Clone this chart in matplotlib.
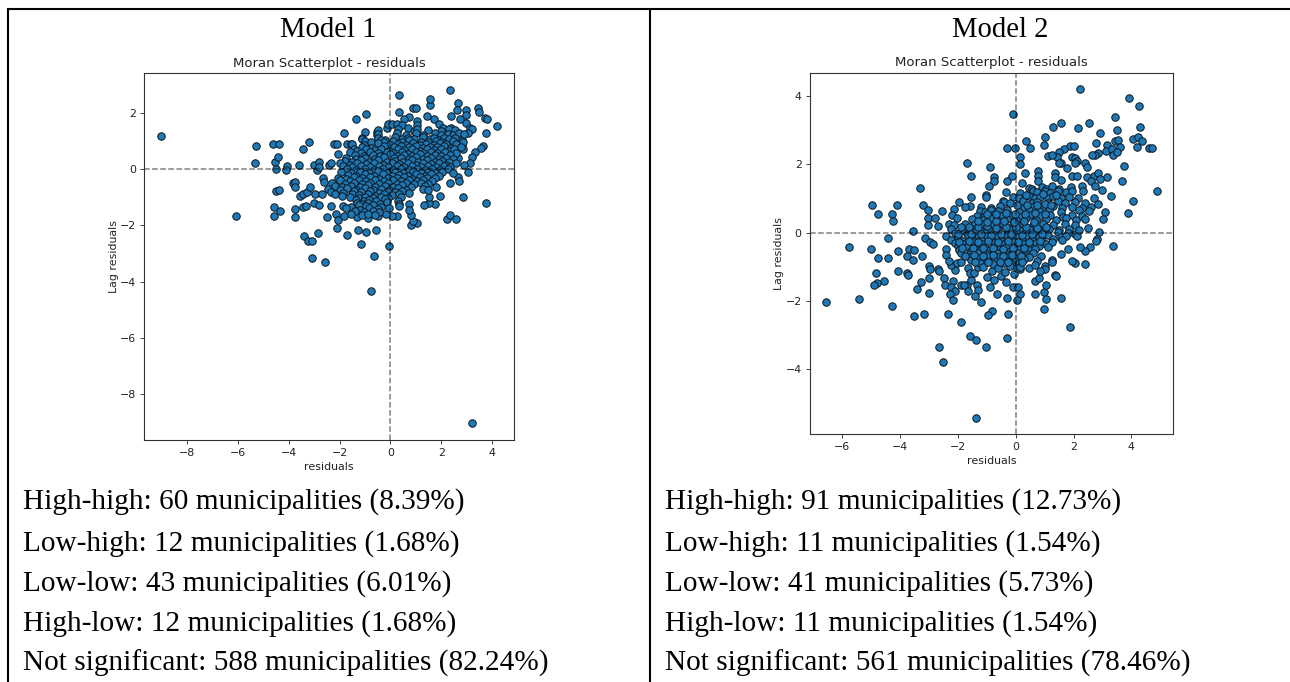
import matplotlib
matplotlib.use('Agg')
import matplotlib.pyplot as plt
from matplotlib.lines import Line2D

W = 1290
H = 682

titles = ['Model 1', 'Model 2']
labels1 = ['High-high: 60 municipalities (8.39%)', 'Low-high: 12 municipalities (1.68%)',
           'Low-low: 43 municipalities (6.01%)', 'High-low: 12 municipalities (1.68%)',
           'Not significant: 588 municipalities (82.24%)']
labels2 = ['High-high: 91 municipalities (12.73%)', 'Low-high: 11 municipalities (1.54%)',
           'Low-low: 41 municipalities (5.73%)', 'High-low: 11 municipalities (1.54%)',
           'Not significant: 561 municipalities (78.46%)']

# model 1, scattered points
outer1 = [(-9.04,1.17),(-6.09,-1.67),(-5.28,0.82),(-5.35,0.21),(-4.63,0.89),(-4.37,0.89),(-4.53,0.27),
(-4.41,0.44),(-4.49,0.02),(-4.06,0.11),(-4.12,-0.04),(-3.58,0.13),(-3.45,0.72),(-3.22,0.97),(-4.5,-0.79),
(-4.37,-0.75),(-4.59,-1.34),(-4.33,-1.48),(-4.59,-1.67),(-3.85,-0.49),(-3.75,-0.46),(-3.74,-0.65),
(-3.77,-1.42),(-3.74,-1.7),(-3.56,-0.94),(-3.43,-0.87),(-3.29,-0.83),(-3.15,-0.63),(-3.45,-1.36),
(-3.33,-1.3),(-3.0,-1.19),(-2.8,-1.28),(-2.97,-0.89),(-2.7,-0.87),(-3.0,0.15),(-2.83,0.26),(-2.87,-0.04),
(-2.8,0.08),(-2.64,-0.32),(-2.61,-0.47),(-2.43,0.13),(-2.32,0.2),(-2.22,0.89),(-2.11,0.89),(-2.06,0.53),
(-1.82,1.29),(-1.72,0.91),(-1.55,0.91),(-3.39,-2.38),(-3.23,-2.55),(-3.07,-2.55),(-2.86,-2.27),(-3.08,-3.17),
(-2.59,-3.31),(-2.48,-1.71),(-2.32,-1.3),(-2.14,-1.58),(-2.05,-1.81),(-2.11,-2.08),(-1.71,-2.33),(-1.82,-1.66),
(-1.26,-2.16),(-0.96,-2.24),(-0.55,-2.18),(-1.14,-2.67),(-0.64,-3.1),(-0.05,-2.72),(-0.76,-4.33),(3.21,-9.05),
(-1.36,1.8),(-0.96,1.97),(-0.98,1.33),(-1.13,1.12),(-0.51,1.33),(-0.51,1.2),(0.35,2.62),(0.35,2.02),(0.91,2.19),
(1.01,2.16),(1.57,2.28),(1.57,2.48),(2.36,2.82),(2.65,2.34),(2.62,2.1),(2.97,2.12),(2.99,1.92),(2.4,1.89),
(1.43,1.89),(1.73,1.79),(0.75,1.86),(0.55,1.79),(1.06,1.72),(3.46,2.19),(3.49,2.03),(3.73,1.81),(3.82,1.79),
(4.21,1.52),(3.77,1.27),(2.98,1.65),(2.74,1.77),(3.14,1.48),(3.23,1.42),(3.65,0.83),(3.58,0.76),(3.35,0.62),
(3.2,0.44),(3.12,0.23),(2.9,0.14),(3.04,-0.12),(3.77,-1.22),(2.87,-1.0),(1.96,-0.94),(2.68,-0.27),(2.7,-0.44),
(2.34,-0.51),(1.75,-1.25),(1.52,-1.22),(1.34,-1.29),(1.52,-0.98),(2.22,-1.76),(2.36,-1.65),(2.6,-1.76),
(1.06,-1.93),(0.83,-1.99),(0.88,-1.86),(0.83,-1.64),(0.75,-1.25),(0.75,-1.44),(0.25,-1.67),(0.07,-1.67),
(-0.18,-1.58),(-0.49,-1.66),(-0.88,-1.74),(-1.3,-1.7),(2.81,1.03),(2.81,0.85),(2.87,0.7),(2.68,0.4),(3.07,1.27),
(-0.14,1.48),(-0.08,1.6),(0.05,1.62),(0.25,1.6),(0.45,1.57),(0.71,1.48),(1.04,1.57),(1.93,1.6),(2.09,1.45),(2.38,1.45)]

# model 1, dense centre
core1 = [(-0.5,1.38),(0.3,1.42),(0.95,1.36),(1.05,1.44),(1.5,1.4),(2.0,1.35),(2.3,1.42),(2.55,1.38),
(-0.48,1.25),(0.25,1.28),(0.6,1.22),(1.0,1.27),(1.3,1.22),(1.75,1.29),(2.0,1.21),(2.25,1.26),(2.45,1.23),(2.7,1.27),(2.9,1.24),
(-1.1,1.08),(-0.5,1.12),(-0.2,1.05),(0.2,1.13),(0.45,1.07),(0.7,1.12),(0.95,1.06),(1.3,1.13),(1.55,1.08),(1.7,1.12),(1.9,1.05),(2.1,1.12),(2.3,1.07),(2.55,1.1),
(-1.0,1.0),(-0.75,0.96),(-0.35,1.02),(-0.25,0.95),(0.1,1.0),(0.45,0.97),(0.75,1.02),(1.2,0.98),(1.5,0.96),(1.8,1.01),(2.05,0.97),(2.45,1.0),(2.85,0.98),
(-1.5,0.91),(-1.05,0.87),(-0.5,0.92),(0.0,0.86),(0.3,0.91),(0.6,0.87),(0.9,0.93),(1.15,0.86),(1.4,0.9),(1.7,0.85),(1.95,0.92),(2.2,0.88),(2.6,0.91),
(-1.1,0.8),(-0.75,0.76),(-0.25,0.81),(0.15,0.77),(0.4,0.82),(0.75,0.78),(1.0,0.81),(1.3,0.75),(1.55,0.8),(1.85,0.77),(2.1,0.82),(2.4,0.76),(2.8,0.8),
(-1.45,0.7),(-1.3,0.66),(-0.95,0.72),(-0.6,0.67),(-0.35,0.71),(-0.05,0.66),(0.3,0.72),(0.55,0.68),(0.85,0.71),(1.15,0.65),(1.45,0.72),(1.7,0.67),(2.0,0.71),(2.3,0.66),(2.5,0.7),
(-1.6,0.6),(-1.15,0.56),(-0.8,0.61),(-0.5,0.57),(-0.15,0.62),(0.1,0.58),(0.45,0.6),(0.7,0.55),(1.0,0.62),(1.3,0.57),(1.6,0.6),(1.85,0.56),(2.15,0.61),(2.6,0.57),
(-1.4,0.5),(-1.05,0.46),(-0.7,0.51),(-0.4,0.47),(0.0,0.52),(0.25,0.46),(0.55,0.5),(0.85,0.47),(1.15,0.52),(1.45,0.46),(1.75,0.51),(2.0,0.47),(2.35,0.5),
(-1.75,0.4),(-1.35,0.36),(-1.0,0.41),(-0.6,0.37),(-0.25,0.42),(0.15,0.38),(0.4,0.4),(0.75,0.36),(1.0,0.42),(1.3,0.37),(1.6,0.41),(1.9,0.36),(2.2,0.4),(2.45,0.37),
(-1.8,0.3),(-1.5,0.26),(-1.15,0.31),(-0.85,0.27),(-0.5,0.32),(-0.15,0.26),(0.2,0.3),(0.5,0.27),(0.85,0.32),(1.1,0.26),(1.45,0.31),(1.75,0.27),(2.05,0.3),(2.3,0.26),
(-2.0,0.2),(-1.6,0.16),(-1.3,0.21),(-0.95,0.17),(-0.65,0.22),(-0.3,0.16),(0.05,0.2),(0.35,0.17),(0.7,0.22),(1.0,0.16),(1.3,0.21),(1.6,0.17),(1.9,0.2),(2.2,0.16),(2.6,0.2),
(-1.85,0.1),(-1.5,0.06),(-1.15,0.11),(-0.8,0.07),(-0.45,0.12),(-0.1,0.06),(0.25,0.1),(0.55,0.07),(0.85,0.12),(1.2,0.06),(1.5,0.11),(1.8,0.07),(2.1,0.1),(2.35,0.06),
(-1.7,0.0),(-1.35,-0.04),(-1.0,0.01),(-0.65,-0.03),(-0.3,0.02),(0.1,-0.04),(0.4,0.0),(0.75,-0.03),(1.05,0.02),(1.35,-0.04),(1.65,0.01),(1.95,-0.03),(2.25,0.0),
(-1.95,-0.1),(-1.55,-0.14),(-1.2,-0.09),(-0.85,-0.13),(-0.5,-0.08),(-0.15,-0.14),(0.2,-0.1),(0.5,-0.13),(0.9,-0.08),(1.2,-0.14),(1.5,-0.09),(1.75,-0.13),(2.05,-0.1),(2.45,-0.14),
(-1.65,-0.2),(-1.35,-0.24),(-1.0,-0.19),(-0.65,-0.23),(-0.3,-0.18),(0.05,-0.24),(0.35,-0.2),(0.7,-0.23),(1.0,-0.18),(1.35,-0.24),(1.6,-0.19),(1.9,-0.23),
(-2.05,-0.3),(-1.75,-0.34),(-1.45,-0.29),(-1.1,-0.33),(-0.8,-0.28),(-0.45,-0.34),(-0.1,-0.3),(0.25,-0.33),(0.55,-0.28),(0.85,-0.34),(1.15,-0.29),(1.45,-0.33),(1.75,-0.3),
(-2.0,-0.4),(-1.6,-0.44),(-1.25,-0.39),(-0.95,-0.43),(-0.6,-0.38),(-0.25,-0.44),(0.1,-0.4),(0.4,-0.43),(0.75,-0.38),(1.05,-0.44),(1.3,-0.39),(1.65,-0.43),
(-2.3,-0.5),(-1.8,-0.54),(-1.45,-0.49),(-1.1,-0.53),(-0.8,-0.48),(-0.45,-0.54),(-0.1,-0.5),(0.25,-0.53),(0.6,-0.48),(0.95,-0.54),(1.2,-0.49),(1.5,-0.53),
(-2.2,-0.6),(-1.9,-0.64),(-1.55,-0.59),(-1.2,-0.63),(-0.9,-0.58),(-0.6,-0.64),(-0.2,-0.6),(0.1,-0.63),(0.45,-0.58),(0.8,-0.64),(1.35,-0.6),(1.8,-0.63),
(-2.45,-0.7),(-2.0,-0.74),(-1.7,-0.69),(-1.35,-0.73),(-1.0,-0.68),(-0.7,-0.74),(-0.35,-0.7),(-0.05,-0.73),(0.3,-0.68),(0.6,-0.74),(1.3,-0.7),(1.5,-0.73),
(-2.35,-0.8),(-1.85,-0.84),(-1.45,-0.79),(-1.15,-0.83),(-0.8,-0.78),(-0.45,-0.84),(-0.1,-0.8),(0.2,-0.83),(0.45,-0.78),(0.75,-0.84),
(-2.2,-0.9),(-1.9,-0.94),(-1.5,-0.89),(-1.25,-0.93),(-0.9,-0.88),(-0.6,-0.94),(-0.25,-0.9),(0.05,-0.93),(0.35,-0.88),
(-1.6,-1.0),(-1.25,-1.04),(-1.0,-0.99),(-0.7,-1.03),(-0.35,-0.98),(-0.1,-1.04),(0.4,-1.0),
(-1.35,-1.1),(-1.05,-1.14),(-0.85,-1.09),(-0.55,-1.13),(-0.2,-1.08),(0.3,-1.14),
(-1.3,-1.2),(-1.1,-1.24),(-0.9,-1.19),(-0.4,-1.23),(-0.15,-1.18),(0.35,-1.24),
(-1.85,-1.3),(-1.55,-1.34),(-1.25,-1.29),(-0.95,-1.33),(-0.7,-1.28),(-0.35,-1.34),(0.35,-1.3),
(-1.75,-1.4),(-1.2,-1.44),(-0.85,-1.39),(-0.5,-1.43),(-0.05,-1.38),
(-1.4,-1.5),(-1.05,-1.54),(-0.7,-1.49),(-0.45,-1.53),(-1.55,-1.6),(-1.1,-1.63),(-0.9,-1.58),(-0.6,-1.62)]

# model 2, scattered points
outer2 = [(2.23,4.21),(3.93,3.96),(4.28,3.7),(-0.08,3.48),(3.45,3.38),(3.51,3.02),(4.29,3.11),(1.56,3.21),(1.28,3.09),
(2.53,3.21),(2.17,3.06),(2.91,2.93),(1.0,2.82),(0.36,2.7),(0.5,2.47),(-0.01,2.49),(-0.3,2.47),(0.96,2.56),(3.43,2.7),
(3.53,2.72),(2.77,2.63),(4.07,2.75),(4.23,2.8),(4.38,2.68),(4.2,2.51),(4.61,2.47),(4.73,2.47),(4.88,1.21),(4.05,0.93),
(3.88,0.57),(3.73,1.96),(3.69,1.51),(3.6,2.52),(3.15,2.57),(3.13,2.39),(3.32,2.44),(3.38,2.28),(3.49,2.38),(2.86,2.33),
(2.75,2.28),(2.63,2.28),(1.86,2.55),(2.0,2.55),(1.67,2.45),(1.48,2.38),(1.42,2.23),(1.12,2.25),(1.25,2.28),(1.57,2.05),
(1.48,2.03),(1.94,2.21),(2.05,2.18),(2.11,2.11),(2.04,2.05),(1.76,1.89),(2.39,2.03),(2.45,1.92),(0.15,2.21),(0.15,2.01),
(-1.7,2.05),(-0.89,1.94),(-1.55,1.66),(-3.33,1.32),(-0.75,1.62),(-0.75,1.52),(-0.91,1.37),(-0.31,1.52),(-0.13,1.66),
(0.33,1.76),(0.77,1.81),(0.77,1.67),(0.77,1.52),(1.34,1.76),(1.36,1.62),(1.56,1.54),(1.96,1.66),(2.13,1.66),(2.48,1.64),
(2.69,1.66),(2.83,1.76),(3.15,1.64),(2.92,1.56),(2.6,1.52),(2.75,1.37),(3.0,1.25),(3.29,1.08),(2.28,1.37),(2.32,1.23),
(2.69,1.01),(2.85,0.84),(3.09,0.6),(3.03,0.39),(2.88,0.02),(2.49,0.15),(-4.98,0.82),(-4.11,0.82),(-4.75,0.55),(-4.27,0.55),
(-4.24,0.34),(-3.56,0.06),(-4.41,-0.15),(-3.2,0.8),(-3.03,0.68),(-3.02,0.43),(-2.78,0.43),(-3.02,0.24),(-2.68,0.2),
(-2.55,0.65),(-2.15,0.7),(-1.98,0.91),(-2.21,0.52),(-2.04,0.42),(-1.58,0.79),(-1.75,0.74),(-1.55,1.05),(-1.04,1.12),
(-1.04,1.05),(-0.43,0.94),(-5.77,-0.42),(-5.0,-0.47),(-4.06,-0.54),(-3.71,-0.47),(-3.52,-0.51),(-4.75,-0.74),(-4.43,-0.74),
(-3.75,-0.69),(-3.54,-0.8),(-3.24,-0.69),(-3.14,-0.15),(-2.96,-0.27),(-2.85,-0.33),(-2.43,-0.47),(-2.43,-0.65),(-3.0,-0.98),
(-2.98,-1.05),(-2.7,-1.05),(-2.65,-1.11),(-4.82,-1.17),(-4.08,-1.13),(-3.75,-1.19),(-3.73,-1.24),(-4.56,-1.41),(-4.79,-1.46),
(-4.92,-1.54),(-3.29,-1.43),(-3.0,-1.34),(-3.43,-1.66),(-3.0,-1.78),(-2.48,-1.34),(-2.44,-1.53),(-2.16,-1.41),(-2.25,-1.58),
(-2.1,-1.72),(-2.27,-1.81),(-2.16,-1.96),(-1.91,-1.53),(-1.69,-1.53),(-1.79,-1.53),(-1.56,-1.39),(-1.33,-1.53),(-1.29,-1.68),
(-1.67,-1.72),(-1.41,-1.84),(-1.21,-2.04),(-0.89,-1.6),(-0.65,-1.8),(-0.29,-1.92),(-0.08,-1.58),(0.09,-1.58),(0.15,-1.8),
(0.03,-1.96),(0.68,-1.8),(0.98,-1.75),(1.06,-1.94),(1.04,-1.54),(0.65,-1.41),(0.82,-1.34),(1.56,-1.92),(1.36,-1.23),(1.38,-1.27),
(0.98,-2.25),(1.86,-2.76),(-6.57,-2.02),(-5.41,-1.95),(-4.27,-2.16),(-3.52,-2.43),(-3.19,-2.37),(-2.34,-2.37),(-1.91,-2.62),
(-0.83,-2.3),(-0.97,-2.41),(-0.27,-2.39),(-1.6,-3.04),(-1.37,-3.15),(-0.32,-3.08),(-1.03,-3.35),(-2.64,-3.35),(-2.51,-3.79),
(-1.37,-5.42),(3.37,-0.39),(2.57,-0.42),(2.38,-0.55),(2.23,-0.42),(2.4,-0.93),(2.05,-0.9),(1.95,-0.84),(1.79,-0.47),(1.57,-0.61),
(1.25,-0.8),(1.25,-0.87),(1.01,-0.97),(1.0,-1.05),(0.84,-1.11),(0.88,-0.67),(0.73,-0.82),(0.47,-1.02),(0.68,-0.95),(0.14,-1.05),
(2.8,-0.17),(2.78,-0.23),(2.05,-0.05),(2.11,-0.09),(-0.68,-0.88),(-0.52,-0.88),(-0.81,-1.13),(-1.0,-1.29),(-0.74,-1.38),(-0.52,-1.27),
(-0.33,-1.44),(-0.06,-1.22),(-0.39,-1.14),(-1.64,-1.02),(-1.6,-1.17),(-1.46,-1.17),(-1.29,-1.0),(-1.1,-0.9),(-2.12,-1.08),(-2.23,-0.95),
(-2.31,-0.83),(-2.05,-0.9),(-1.9,-0.87)]

# model 2, dense centre
core2 = [(0.2,1.45),(0.45,1.32),(0.55,1.28),(0.9,1.33),(1.05,1.27),(1.25,1.36),(1.5,1.29),(1.9,1.33),
(-0.35,1.2),(0.15,1.17),(0.6,1.22),(0.75,1.18),(1.0,1.21),(1.2,1.16),(1.45,1.22),(1.75,1.18),(1.95,1.21),
(-0.1,1.05),(0.1,1.02),(0.45,1.07),(0.65,1.03),(0.85,1.06),(1.1,1.02),(1.3,1.07),(1.55,1.03),(1.85,1.06),(2.15,1.02),
(-0.4,0.9),(-0.2,0.87),(0.25,0.92),(0.55,0.88),(0.75,0.91),(1.1,0.87),(1.45,0.92),(1.7,0.88),(2.05,0.91),(2.4,0.87),
(-1.2,0.75),(-0.85,0.72),(-0.55,0.77),(0.3,0.73),(0.6,0.76),(0.9,0.72),(1.3,0.77),(1.6,0.73),(1.95,0.76),(2.3,0.72),(2.6,0.75),
(-1.25,0.65),(-1.05,0.62),(-0.85,0.67),(-0.6,0.63),(-0.3,0.66),(0.1,0.62),(0.45,0.67),(0.8,0.63),(1.15,0.66),(1.55,0.62),(2.2,0.67),(2.55,0.63),
(-1.35,0.5),(-1.1,0.47),(-0.8,0.52),(-0.5,0.48),(-0.2,0.51),(0.15,0.47),(0.5,0.52),(0.85,0.48),(1.2,0.51),(1.65,0.47),(1.95,0.52),(2.3,0.48),
(-1.5,0.4),(-1.15,0.37),(-0.9,0.42),(-0.65,0.38),(-0.3,0.41),(0.0,0.37),(0.35,0.42),(0.7,0.38),(1.05,0.41),(1.4,0.37),(1.75,0.42),(2.1,0.38),(2.4,0.41),
(-2.3,0.25),(-2.15,0.22),(-1.75,0.27),(-1.45,0.23),(-1.15,0.26),(-0.8,0.22),(-0.45,0.27),(-0.1,0.23),(0.25,0.26),(0.6,0.22),(0.95,0.27),(1.3,0.23),(1.7,0.26),(2.05,0.22),
(-2.25,0.1),(-1.85,0.07),(-1.55,0.12),(-1.25,0.08),(-0.95,0.11),(-0.6,0.07),(-0.25,0.12),(0.1,0.08),(0.45,0.11),(0.8,0.07),(1.15,0.12),(1.5,0.08),(1.85,0.11),(2.2,0.07),
(-2.1,0.0),(-1.7,-0.03),(-1.4,0.02),(-1.05,-0.02),(-0.7,0.01),(-0.35,-0.03),(0.0,0.02),(0.35,-0.02),(0.7,0.01),(1.05,-0.03),(1.45,0.02),(1.8,-0.02),
(-2.4,-0.1),(-2.0,-0.13),(-1.65,-0.08),(-1.3,-0.12),(-1.0,-0.09),(-0.65,-0.13),(-0.3,-0.08),(0.05,-0.12),(0.4,-0.09),(0.8,-0.13),(1.1,-0.08),(1.55,-0.12),(1.75,-0.09),
(-2.25,-0.2),(-1.85,-0.23),(-1.5,-0.18),(-1.2,-0.22),(-0.85,-0.19),(-0.5,-0.23),(-0.2,-0.18),(0.2,-0.22),(0.55,-0.19),(0.9,-0.23),(1.3,-0.18),(1.6,-0.22),
(-2.1,-0.3),(-1.8,-0.33),(-1.45,-0.28),(-1.1,-0.32),(-0.75,-0.29),(-0.4,-0.33),(-0.05,-0.28),(0.3,-0.32),(0.7,-0.29),(1.05,-0.33),(1.25,-0.28),
(-2.0,-0.4),(-1.7,-0.43),(-1.35,-0.38),(-1.05,-0.42),(-0.7,-0.39),(-0.35,-0.43),(0.0,-0.38),(0.5,-0.42),(0.8,-0.39),(1.1,-0.43),
(-1.95,-0.5),(-1.55,-0.53),(-1.2,-0.48),(-0.9,-0.52),(-0.55,-0.49),(-0.2,-0.53),(0.15,-0.48),(0.45,-0.52),(0.65,-0.49),
(-1.9,-0.6),(-1.6,-0.63),(-1.3,-0.58),(-1.0,-0.62),(-0.65,-0.59),(-0.3,-0.63),(0.05,-0.58),(0.35,-0.62),(0.6,-0.59),
(-1.6,-0.7),(-1.3,-0.73),(-0.95,-0.68),(-0.6,-0.72),(-0.25,-0.69),(-0.05,-0.73),(0.3,-0.68),(0.45,-0.72),
(-1.55,-0.8),(-1.1,-0.83),(-0.75,-0.78),(-0.4,-0.82),(-0.15,-0.79),(0.0,-0.83),(0.3,-0.78),
(-1.25,-0.9),(-0.8,-0.93),(-0.4,-0.88),(-0.15,-0.92),(0.1,-0.89),(-1.15,-1.0),(-0.6,-1.03),(-0.2,-0.98),(0.05,-1.02),(0.15,-0.99)]

# more of model 2's middle, it is thicker there than the rows above
middle2 = [(-1.9,0.16),(-1.62,0.18),(-1.3,0.17),(-1.0,0.19),(-0.7,0.15),(-0.35,0.18),(0.02,0.16),(0.35,0.17),(0.72,0.15),(1.05,0.18),
(-2.0,-0.04),(-1.55,-0.05),(-1.2,-0.04),(-0.85,-0.06),(-0.5,-0.04),(-0.15,-0.05),(0.2,-0.06),(0.55,-0.04),(0.9,-0.05),
(-1.98,-0.26),(-1.62,-0.25),(-1.3,-0.27),(-0.97,-0.25),(-0.6,-0.26),(-0.28,-0.25),(0.08,-0.27),(0.45,-0.26),(0.85,-0.25),
(-1.85,-0.46),(-1.47,-0.45),(-1.12,-0.46),(-0.78,-0.45),(-0.45,-0.47),(-0.08,-0.45),(0.28,-0.46),
(-1.75,-0.68),(-1.45,-0.66),(-1.15,-0.67),(-0.8,-0.66),(-0.45,-0.68),(-0.12,-0.66),(0.18,-0.67),
(-1.4,-0.86),(-0.95,-0.85),(-0.55,-0.86),(-0.28,-0.85),(0.2,-0.86),
(-0.7,0.34),(-0.4,0.33),(-0.05,0.31),(0.3,0.33),(0.62,0.31),(-1.3,0.33),(-1.0,0.31),
(-1.0,0.55),(-0.68,0.56),(-0.35,0.57),(-0.02,0.55),(0.32,0.56),(0.65,0.57),(1.0,0.55),
(0.05,0.8),(0.4,0.82),(0.72,0.81),(1.0,0.83),(1.22,0.81),(0.35,1.12),(0.95,1.13),(1.4,1.12)]

fig = plt.figure(figsize=(W / 100, H / 100), dpi=100)


def box(left, top, right, bottom):
    return [left / W, 1 - bottom / H, (right - left) / W, (bottom - top) / H]


def moran(rect, pts, xlim, ylim, xticks, yticks):
    ax = fig.add_axes(box(*rect))
    x = [p[0] for p in pts]
    y = [p[1] for p in pts]
    ax.scatter(x, y, s=29, c='#1f77b4', edgecolors='#0b1720', linewidths=0.7)
    ax.axvline(0, c='k', alpha=0.5, ls='--', lw=1.1)
    ax.axhline(0, c='k', alpha=0.5, ls='--', lw=1.1)
    ax.set_xlim(xlim)
    ax.set_ylim(ylim)
    ax.set_xticks(xticks)
    ax.set_yticks(yticks)
    ax.tick_params(labelsize=7.9, length=2.8, width=0.6, pad=3, colors='#222222')
    ax.set_title('Moran Scatterplot - residuals', fontsize=9.5, pad=4.5, color='#222222')
    ax.set_xlabel('residuals', fontsize=7.9, labelpad=3, color='#222222')
    ax.set_ylabel('Lag residuals', fontsize=7.9, labelpad=1, color='#222222')
    for s in ax.spines.values():
        s.set_linewidth(0.8)
        s.set_color('#333333')
    return ax


moran((144.3, 73, 514.3, 440), outer1 + core1, (-9.69, 4.88), (-9.64, 3.42),
      [-8, -6, -4, -2, 0, 2, 4], [-8, -6, -4, -2, 0, 2])
moran((809.7, 72.7, 1173.3, 433.7), outer2 + core2 + middle2, (-7.13, 5.45), (-5.89, 4.69),
      [-6, -4, -2, 0, 2, 4], [-4, -2, 0, 2, 4])


def txt(px, py, s, **kw):
    fig.text(px / W, 1 - py / H, s, family='Liberation Serif', color='black', va='baseline', **kw)


txt(328, 37, titles[0], fontsize=20.6, ha='center')
txt(1000, 37, titles[1], fontsize=20.6, ha='center')

rows = [509, 550.5, 591, 631, 671]
for r, a, b in zip(rows, labels1, labels2):
    txt(23, r, a, fontsize=21.1, ha='left')
    txt(665, r, b, fontsize=21.1, ha='left')

# table rules
for xs, ys in [((7, W), (8.5, 8.5)), ((8, 8), (8, H)), ((649.7, 649.7), (8, H))]:
    fig.add_artist(Line2D([a / W for a in xs], [1 - b / H for b in ys], color='black', lw=1.5,
                          transform=fig.transFigure, solid_capstyle='butt'))

fig.savefig('out.png', dpi=100)
